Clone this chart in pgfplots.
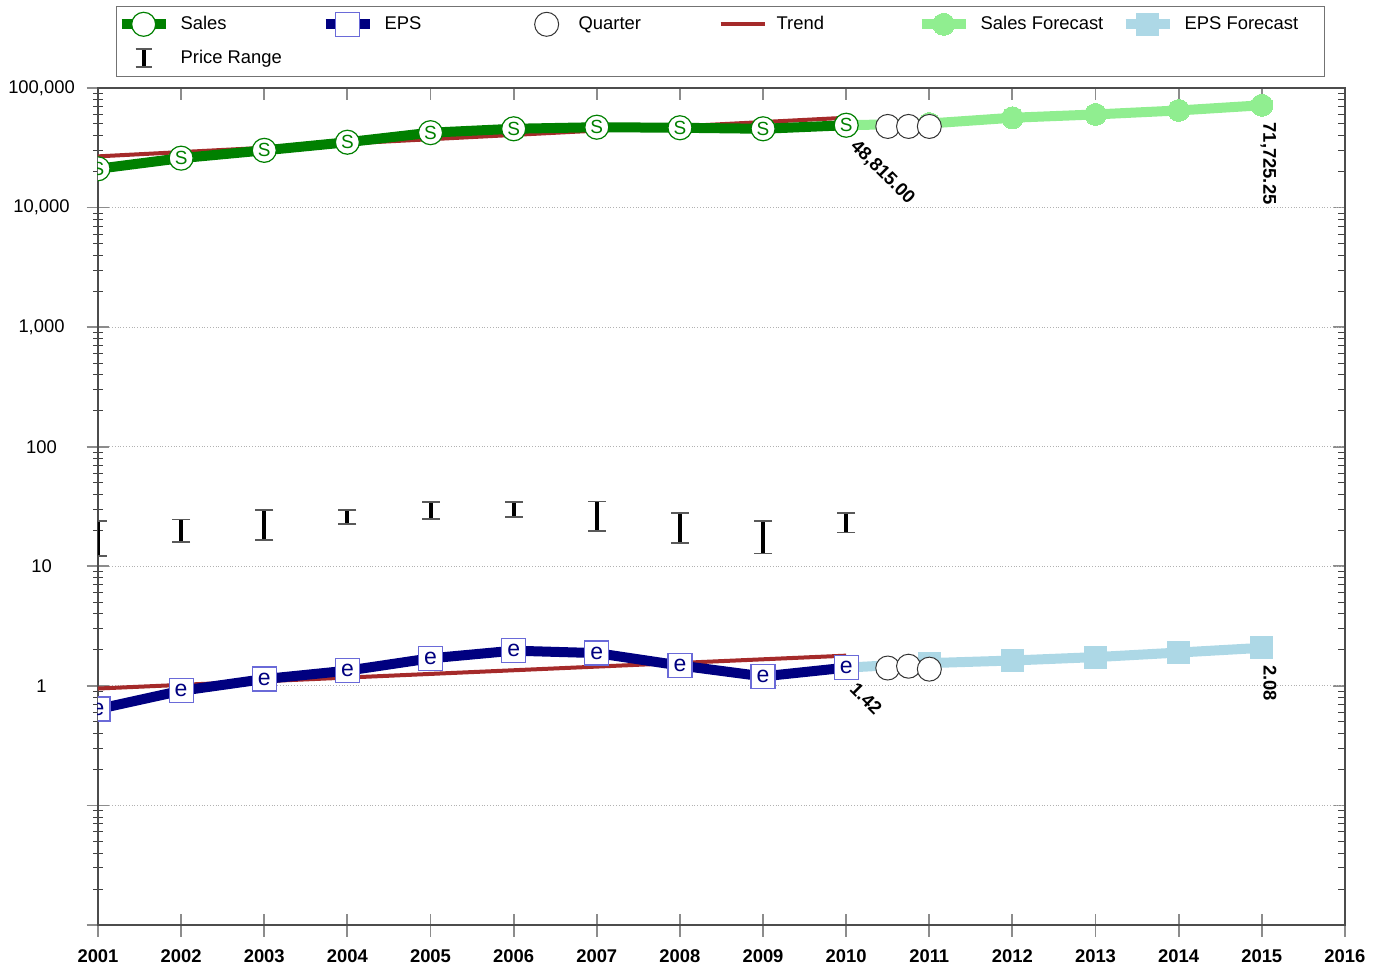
\documentclass[border=0pt]{standalone}
\usepackage{fontspec}
\setmainfont{Liberation Sans}
\usepackage{pgfplots}
\pgfplotsset{compat=1.18}

\definecolor{salesgreen}{HTML}{008000}
\definecolor{epsnavy}{HTML}{000080}
\definecolor{sqedge}{HTML}{6A6AD8}
\definecolor{trendred}{HTML}{A52A2A}
\definecolor{fcgreen}{HTML}{90EE90}
\definecolor{fcblue}{HTML}{ADD8E6}

\begin{document}
\fontsize{9.2}{11}\selectfont
\begin{tikzpicture}
% ticks on the top and right edges
\begin{axis}[
  scale only axis, width=623.5pt, height=418.5pt,
  xmin=2001, xmax=2016, ymode=log, ymin=0.01, ymax=100000,
  axis line style={draw=black!70, line width=0.6pt},
  every major tick/.append style={draw=black!45, line width=0.9pt},
  every minor tick/.append style={draw=black!75, line width=0.5pt},
  xtick={2001,2002,...,2016},
  ytick={0.01,0.1,1,10,100,1000,10000,100000},
  tick align=inside, xtick pos=right, ytick pos=right,
  major tick length=6pt, minor tick length=3.5pt,
  xticklabels={}, yticklabels={}]
\addplot[draw=none] coordinates {(2001,1) (2016,1)};
\end{axis}

\begin{axis}[
  scale only axis, width=623.5pt, height=418.5pt,
  xmin=2001, xmax=2016, ymode=log, ymin=0.01, ymax=100000,
  axis line style={draw=black!70, line width=0.6pt},
  every major tick/.append style={draw=black!45, line width=0.9pt},
  every minor tick/.append style={draw=black!75, line width=0.5pt},
  xtick={2001,2002,...,2016},
  ytick={0.01,0.1,1,10,100,1000,10000,100000},
  tick align=center, xtick pos=left, ytick pos=left,
  major tick length=11.5pt, minor tick length=5pt,
  xticklabels={2001,2002,2003,2004,2005,2006,2007,2008,2009,2010,2011,2012,2013,2014,2015,2016},
  xticklabel style={font=\bfseries, yshift=-3.5pt},
  yticklabels={,,1,10,100,{1,000},{10,000},{100,000}},
  yticklabel style={anchor=center, xshift=-22.5pt},
  ymajorgrids, major grid style={densely dotted, black!30, line width=0.5pt},
  unbounded coords=jump,
  clip marker paths=true,
  legend columns=6,
  legend style={at={(axis description cs:0.0144,1)}, anchor=south west, yshift=5.5pt,
    draw=black!55, line width=0.7pt, inner xsep=0pt, inner ysep=1.5pt,
    row sep=2pt, column sep=3pt,
    nodes={inner sep=2pt, minimum height=15pt}, cells={anchor=west}},
  legend image code/.code={
    \draw[mark repeat=2,mark phase=2,#1] plot coordinates {(0pt,0pt) (11pt,0pt) (22pt,0pt)};},
]

% legend entries
\addlegendimage{salesgreen, line width=5pt, mark=*, mark size=6pt,
  mark options={solid, fill=white, draw=salesgreen, line width=0.6pt}}
\addlegendentry{\makebox[65pt][l]{Sales}}
\addlegendimage{epsnavy, line width=5pt, mark=square*, mark size=6pt,
  mark options={solid, fill=white, draw=sqedge, line width=0.6pt}}
\addlegendentry{\makebox[65pt][l]{EPS}}
\addlegendimage{legend image code/.code={
  \path[draw=none] (0pt,0pt) -- (22pt,0pt);
  \draw[mark=*, mark size=6pt, mark options={fill=white, draw=black!80, line width=0.5pt}]
    plot coordinates {(11pt,0pt)};}}
\addlegendentry{\makebox[65pt][l]{Quarter}}
\addlegendimage{trendred, line width=2pt}
\addlegendentry{\makebox[65pt][l]{Trend}}
\addlegendimage{fcgreen, line width=5pt, mark=*, mark size=5.5pt, mark options={solid, line width=0pt}}
\addlegendentry{\makebox[65pt][l]{Sales Forecast}}
\addlegendimage{fcblue, line width=5pt, mark=square*, mark size=5.5pt, mark options={solid, line width=0pt}}
\addlegendentry{\makebox[68pt][l]{EPS Forecast}}
\addlegendimage{legend image code/.code={
  \path[draw=none] (0pt,0pt) -- (22pt,0pt);
  \draw[black, line width=2pt] (11pt,-4.5pt) -- (11pt,4.5pt);
  \draw[black!65, line width=0.8pt] (7pt,-4.5pt) -- (15pt,-4.5pt) (7pt,4.5pt) -- (15pt,4.5pt);}}
\addlegendentry{\makebox[65pt][l]{Price Range}}

% trend lines
\addplot[forget plot, trendred, line width=2pt] coordinates {(2001,26800) (2010,56400)};
\addplot[forget plot, trendred, line width=2pt] coordinates {(2001,0.95) (2010,1.79)};

% forecasts
\addplot[forget plot, fcgreen, line width=5pt, mark=*, mark size=5.5pt, mark options={solid, line width=0pt}]
  coordinates {(2010,48815) (2011,50500) (2012,56400) (2013,60100) (2014,64900) (2015,71725.25)};
\addplot[forget plot, fcblue, line width=5pt, mark=square*, mark size=5.5pt, mark options={solid, line width=0pt}]
  coordinates {(2010,1.42) (2011,1.55) (2012,1.63) (2013,1.74) (2014,1.90) (2015,2.08)};

% sales
\addplot[forget plot, salesgreen, line width=5pt, mark=*, mark size=6pt,
  mark options={solid, fill=white, draw=salesgreen, line width=0.6pt},
  nodes near coords={S},
  every node near coord/.append style={anchor=center, inner sep=0pt, text=salesgreen,
    font=\fontsize{9.5}{10}\selectfont}]
  coordinates {(2001,21100) (2002,25900) (2003,30100) (2004,35200) (2005,42300)
    (2006,45600) (2007,47000) (2008,46500) (2009,45600) (2010,48815)};

% EPS
\addplot[forget plot, epsnavy, line width=5pt, mark=square*, mark size=6pt,
  mark options={solid, fill=white, draw=sqedge, line width=0.6pt},
  nodes near coords={e},
  every node near coord/.append style={anchor=center, inner sep=0pt, text=epsnavy,
    font=\fontsize{11.5}{12}\selectfont}]
  coordinates {(2001,0.64) (2002,0.91) (2003,1.14) (2004,1.34) (2005,1.70)
    (2006,1.97) (2007,1.88) (2008,1.48) (2009,1.20) (2010,1.42)};

% price range (low, high)
\addplot[forget plot, black, line width=2pt, mark=-, mark size=4.5pt,
  mark options={solid, draw=black!65, line width=0.8pt}]
  coordinates {
    (2001,12.2) (2001,23.9) (2001,nan)
    (2002,16.0) (2002,24.7) (2002,nan)
    (2003,16.5) (2003,29.7) (2003,nan)
    (2004,22.7) (2004,29.7) (2004,nan)
    (2005,24.8) (2005,34.3) (2005,nan)
    (2006,25.8) (2006,34.3) (2006,nan)
    (2007,19.7) (2007,34.9) (2007,nan)
    (2008,15.7) (2008,28.0) (2008,nan)
    (2009,12.8) (2009,24.0) (2009,nan)
    (2010,19.1) (2010,28.0)
  };

% quarters
\addplot[forget plot, only marks, mark=*, mark size=6pt,
  mark options={fill=white, draw=black!80, line width=0.5pt}]
  coordinates {(2010.5,47700) (2010.75,47700) (2011,47700)};
\addplot[forget plot, only marks, mark=*, mark size=6pt,
  mark options={fill=white, draw=black!80, line width=0.5pt}]
  coordinates {(2010.5,1.41) (2010.75,1.46) (2011,1.38)};

% value labels
\addplot[forget plot, draw=none, nodes near coords={\bfseries 48,815.00},
  every node near coord/.append style={anchor=west, inner sep=0pt, xshift=3.5pt, yshift=-9pt, rotate=-45}]
  coordinates {(2010,48815)};
\addplot[forget plot, draw=none, nodes near coords={\bfseries 1.42},
  every node near coord/.append style={anchor=west, inner sep=0pt, xshift=3.5pt, yshift=-9pt, rotate=-45}]
  coordinates {(2010,1.42)};
\addplot[forget plot, draw=none, nodes near coords={\bfseries 71,725.25},
  every node near coord/.append style={anchor=west, inner sep=0pt, xshift=3.3pt, yshift=-8.5pt, rotate=-90}]
  coordinates {(2015,71725.25)};
\addplot[forget plot, draw=none, nodes near coords={\bfseries 2.08},
  every node near coord/.append style={anchor=west, inner sep=0pt, xshift=4pt, yshift=-8.5pt, rotate=-90}]
  coordinates {(2015,2.08)};
\end{axis}
\pgfresetboundingbox
\path[use as bounding box] (-49pt,-20.5pt) rectangle (640.5pt,462.5pt);
\end{tikzpicture}
\end{document}
